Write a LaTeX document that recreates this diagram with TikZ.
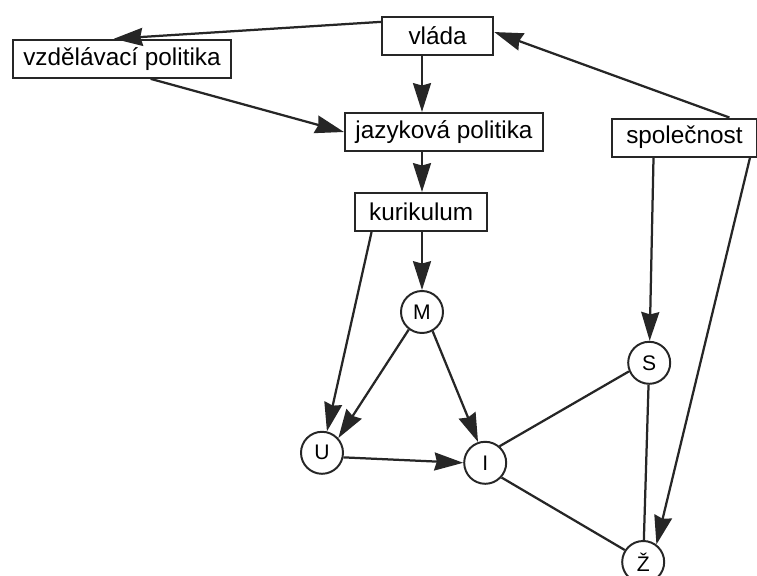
\documentclass[tikz,border=0pt]{standalone}
\usepackage{fontspec}
\setmainfont{Liberation Sans}
\usetikzlibrary{arrows.meta}

\begin{document}
\begin{tikzpicture}[
	box/.style={draw=black!85, line width=1.5pt, minimum height=0.95cm, inner sep=0pt, font=\fontsize{17.3}{19}\selectfont},
	ring/.style={draw=black!85, circle, line width=1.4pt, minimum size=1.05cm, inner sep=0pt, font=\fontsize{15}{17}\selectfont},
	link/.style={black!85, line width=1.6pt},
	>={Stealth[length=0.72cm,width=0.45cm,inset=0.06cm]}
	]
		\clip (0,0) rectangle (18.925,14.4);
		\node[box, minimum width=5.43cm] (vzdel) at (3.05,12.93) {vzdělávací politika};
		\node[box, minimum width=2.78cm] (vlada) at (10.94,13.5) {vláda};
		\node[box, minimum width=4.95cm] (jazyk) at (11.1,11.1) {jazyková politika};
		\node[box, minimum width=3.63cm] (spol) at (17.11,10.96) {společnost};
		\node[box, minimum width=3.3cm] (kurik) at (10.53,9.1) {kurikulum};
		\node[ring] (M) at (10.55,6.6) {M};
		\node[ring] (U) at (8.05,3.08) {U};
		\node[ring] (I) at (12.13,2.83) {I};
		\node[ring] (S) at (16.23,5.33) {S};
		\node[ring] (Z) at (16.08,0.35) {Ž};
		\draw[link, ->] (vlada.166) -- (vzdel.112);
		\draw[link, ->] (vzdel.325) -- (jazyk.west);
		\draw[link, ->] (spol.24) -- (vlada.4);
		\draw[link, ->] (vlada.south -| M) -- (jazyk.north -| M);
		\draw[link, ->] (jazyk.south -| M) -- (kurik.north -| M);
		\draw[link, ->] (kurik.south -| M) -- (M);
		\draw[link, ->] (kurik.202) -- (U.77);
		\draw[link, ->] (M.233) -- (U.42);
		\draw[link, ->] (M.299) -- (I.109);
		\draw[link, ->] (U.-12) -- (I.west);
		\draw[link] (I.49) -- (S.203);
		\draw[link] (I.318) -- (Z.147);
		\draw[link] (S) -- (Z);
		\draw[link, ->] (spol.213) -- (S);
		\draw[link, ->] (spol.343) -- (Z.53);
	\end{tikzpicture}
\end{document}
